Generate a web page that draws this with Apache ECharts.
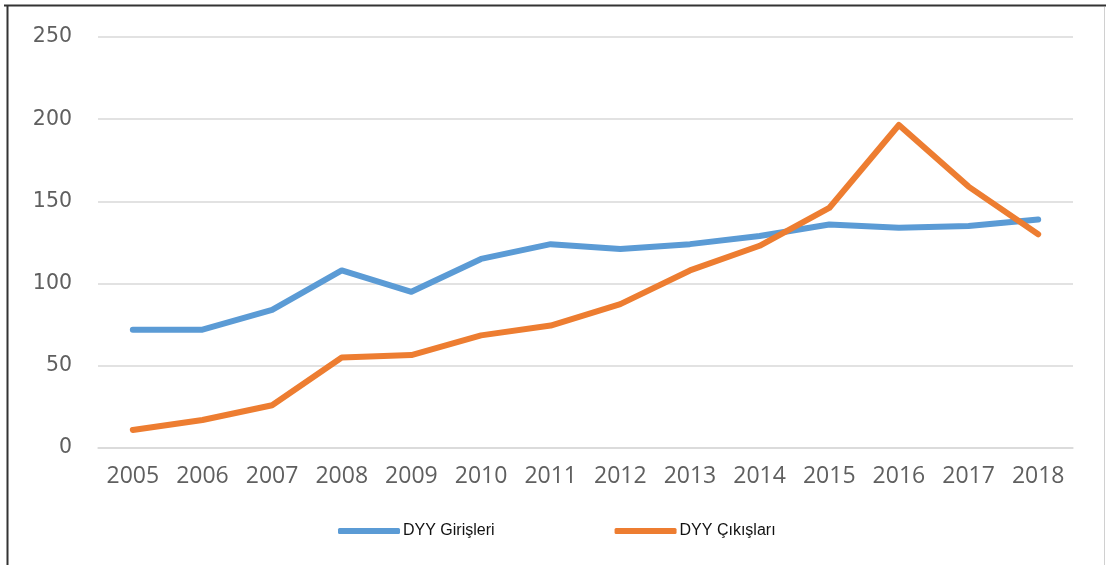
<!DOCTYPE html>
<html>
<head>
<meta charset="utf-8">
<script src="https://cdn.jsdelivr.net/npm/echarts@6/dist/echarts.min.js"></script>
<style>
  html, body { margin: 0; padding: 0; background: #fff; }
  #main { width: 1106px; height: 565px; }
</style>
</head>
<body>
<div id="main"></div>
<script>
// yillar (kategori ekseni)
var years = ['2005','2006','2007','2008','2009','2010','2011','2012','2013','2014','2015','2016','2017','2018'];
// DYY girisleri
var girisleri = [72, 72, 84, 108, 95, 115, 124, 121, 124, 129, 136, 134, 135, 139];
// DYY cikislari
var cikislari = [11, 17, 26, 55, 56.5, 68.5, 74.5, 87.5, 108, 123, 146, 196.5, 159, 130];
var yTicks = [0, 50, 100, 150, 200, 250];

var chart = echarts.init(document.getElementById('main'));

var option = {
  backgroundColor: '#fff',
  animation: false,
  grid: { left: 98, right: 33, top: 37, bottom: 117 },
  legend: {
    bottom: 21,
    left: 333,
    itemWidth: 62,
    itemHeight: 6,
    itemGap: 120,
    icon: 'roundRect',
    textStyle: { fontFamily: '"Liberation Sans", Arial', fontSize: 16, color: '#111', padding: [0, 0, 0, -2] },
    data: ['DYY Girişleri', 'DYY Çıkışları']
  },
  xAxis: {
    type: 'category',
    data: years,
    boundaryGap: true,
    axisLine: { show: true, lineStyle: { color: '#d9d9d9', width: 1.5 } },
    axisTick: { show: false },
    axisLabel: { color: '#5f5f5f', fontSize: 23, margin: 17, fontFamily: '"Open Sans", sans-serif' }
  },
  yAxis: {
    type: 'value',
    min: yTicks[0],
    max: yTicks[yTicks.length - 1],
    interval: 50,
    axisLine: { show: false },
    axisTick: { show: false },
    splitLine: { lineStyle: { color: '#d9d9d9', width: 1.5 } },
    axisLabel: { color: '#5f5f5f', fontSize: 20.5, margin: 26, fontFamily: '"DejaVu Sans", Verdana, sans-serif' }
  },
  series: [
    {
      name: 'DYY Girişleri',
      type: 'line',
      data: girisleri,
      showSymbol: false,
      symbol: 'none',
      color: '#5b9bd5',
      lineStyle: { width: 6, color: '#5b9bd5', cap: 'round', join: 'round' }
    },
    {
      name: 'DYY Çıkışları',
      type: 'line',
      data: cikislari,
      showSymbol: false,
      symbol: 'none',
      color: '#ed7d31',
      lineStyle: { width: 6, color: '#ed7d31', cap: 'round', join: 'round' }
    }
  ],
  graphic: [
    // cerceve
    { type: 'line', shape: { x1: 4, y1: 5.5, x2: 1106, y2: 5.5 }, style: { stroke: '#333', lineWidth: 2 } },
    { type: 'line', shape: { x1: 7.5, y1: 5, x2: 7.5, y2: 565 }, style: { stroke: '#333', lineWidth: 2 } },
    { type: 'line', shape: { x1: 1104.5, y1: 7, x2: 1104.5, y2: 565 }, style: { stroke: '#d0d0d0', lineWidth: 1 } }
  ]
};

chart.setOption(option);
</script>
</body>
</html>
